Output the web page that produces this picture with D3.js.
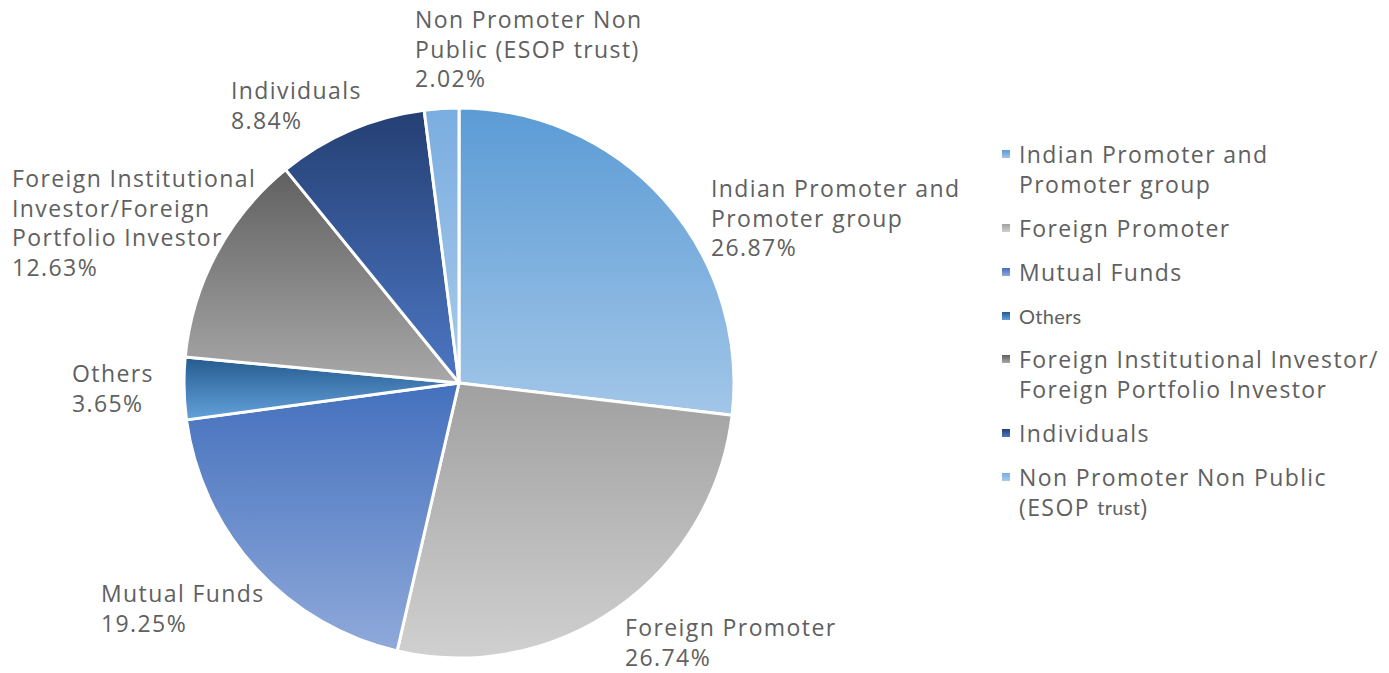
<!DOCTYPE html>
<html>
<head>
<meta charset="utf-8">
<script src="https://cdn.jsdelivr.net/npm/d3@7"></script>
<style>
  html, body { margin: 0; padding: 0; background: #fff; }
  svg { display: block; }
  text { font-family: "Open Sans", sans-serif; fill: #606060; }
  .alt { font-family: "Lato", sans-serif; }
</style>
</head>
<body>
<svg id="chart" width="1389" height="673"></svg>
<script>
// Shareholding pattern
const categories = [
  "Indian Promoter and Promoter group",
  "Foreign Promoter",
  "Mutual Funds",
  "Others",
  "Foreign Institutional Investor/Foreign Portfolio Investor",
  "Individuals",
  "Non Promoter Non Public (ESOP trust)"
];
const values = [26.87, 26.74, 19.25, 3.65, 12.63, 8.84, 2.02];

// Slice label lines (drawn beside the pie)
const sliceLabelLines = [
  ["Indian Promoter and", "Promoter group"],
  ["Foreign Promoter"],
  ["Mutual Funds"],
  ["Others"],
  ["Foreign Institutional", "Investor/Foreign", "Portfolio Investor"],
  ["Individuals"],
  ["Non Promoter Non", "Public (ESOP trust)"]
];
// Legend lines; segments flagged true use the narrower face
const legendLines = [
  [[["Indian Promoter and", false]], [["Promoter group", false]]],
  [[["Foreign Promoter", false]]],
  [[["Mutual Funds", false]]],
  [[["Others", true]]],
  [[["Foreign Institutional Investor/", false]], [["Foreign Portfolio Investor", false]]],
  [[["Individuals", false]]],
  [[["Non Promoter Non Public", false]], [["(ESOP ", false], ["trust", true], [")", false]]]
];

// Gradient stops per slice: [top, bottom]
const gradients = [
  ["#5b9bd5", "#a2c6e8"],
  ["#a0a0a0", "#d0d0d0"],
  ["#4470bd", "#8fa9da"],
  ["#245a8e", "#64a2db"],
  ["#606060", "#a8a8a8"],
  ["#243f73", "#4d77c4"],
  ["#7aade0", "#a9cbea"]
];

// Label anchor positions (left edge, centre of first line)
const labelPos = [
  [711, 188], [625, 627], [101, 593], [72, 373], [12, 178], [231, 90], [415, 19]
];

const svg = d3.select("#chart");
const defs = svg.append("defs");
gradients.forEach((g, i) => {
  const lg = defs.append("linearGradient")
    .attr("id", "grad" + i)
    .attr("x1", 0).attr("y1", 0).attr("x2", 0).attr("y2", 1);
  lg.append("stop").attr("offset", "0%").attr("stop-color", g[0]);
  lg.append("stop").attr("offset", "100%").attr("stop-color", g[1]);
});

const cx = 459, cy = 383, r = 275;
const pie = d3.pie().sort(null).value(d => d)(values);
const arc = d3.arc().innerRadius(0).outerRadius(r);

const g = svg.append("g").attr("transform", `translate(${cx},${cy})`);
g.selectAll("path")
  .data(pie)
  .join("path")
  .attr("d", arc)
  .attr("fill", (d, i) => `url(#grad${i})`)
  .attr("stroke", "#fff")
  .attr("stroke-width", 3)
  .attr("stroke-linejoin", "round");

const fontSize = "23px";
const spacing = "1.4px";
const lh = 29.5;

// Slice labels
const fmt = d3.format(".2f");
pie.forEach((d, i) => {
  const [x, y] = labelPos[i];
  const t = svg.append("text")
    .attr("x", x).attr("y", y)
    .attr("dominant-baseline", "central")
    .style("font-size", fontSize)
    .style("letter-spacing", spacing);
  const lines = sliceLabelLines[i].concat([fmt(values[i]) + "%"]);
  lines.forEach((ln, j) => {
    t.append("tspan").attr("x", x).attr("dy", j === 0 ? 0 : lh).text(ln);
  });
});

// Legend
const legendY = [154, 228, 272, 316, 359, 433, 477];
const legendX = 1019;
legendLines.forEach((lines, i) => {
  const y0 = legendY[i];
  svg.append("rect")
    .attr("x", legendX - 17).attr("y", y0 - 4)
    .attr("width", 8).attr("height", 8)
    .attr("fill", `url(#grad${i})`);
  lines.forEach((segs, j) => {
    const t = svg.append("text")
      .attr("x", legendX).attr("y", y0 + j * lh)
      .attr("dominant-baseline", "central")
      .style("font-size", fontSize)
      .style("letter-spacing", spacing);
    segs.forEach(([s, alt]) => {
      const ts = t.append("tspan").text(s);
      if (alt) ts.attr("class", "alt").style("font-size", "20px").style("letter-spacing", "0.3px");
    });
  });
});
</script>
</body>
</html>
